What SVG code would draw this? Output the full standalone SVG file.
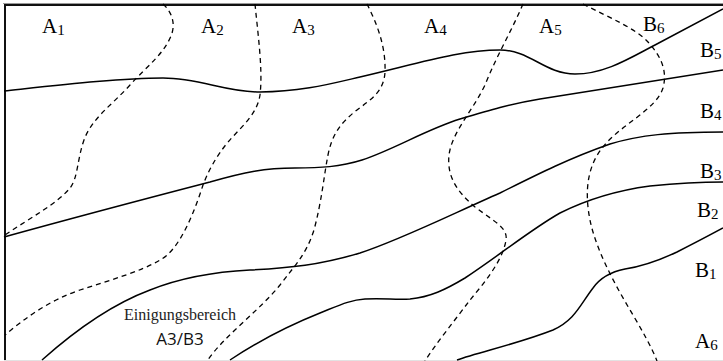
<svg xmlns="http://www.w3.org/2000/svg" width="723" height="361" viewBox="0 0 723 361">
<style>
.frame{stroke:#111;stroke-width:2;fill:none}
.solid{stroke:#000;stroke-width:1.5;fill:none}
.dash{stroke:#000;stroke-width:1.3;fill:none;stroke-dasharray:5,4}
.lbl{font-family:"Liberation Serif","Times New Roman",serif;font-size:21px;fill:#000}
.sub{font-size:15px}
.note{font-family:"Liberation Serif","Times New Roman",serif;font-size:16px;fill:#222;text-anchor:middle}
.note2{font-family:"Open Sans","Liberation Sans",sans-serif;font-size:17px;fill:#111;text-anchor:middle}
</style>
<rect width="723" height="361" fill="#fff"/>
<g id="frame">
<line x1="3" y1="3.5" x2="723" y2="3.5" stroke="#999" stroke-width="1"/>
<line x1="4" y1="5" x2="723" y2="5" class="frame"/>
<line x1="5" y1="4" x2="5" y2="361" class="frame"/>
<line x1="4" y1="360.5" x2="723" y2="360.5" stroke="#e2e2e2" stroke-width="1"/>
</g>
<g id="connectors">
<path class="solid" d="M4,91 C60,85 120,78 163,78 C200,78 225,92 260,92 C300,92 330,84 360,77 C420,63 460,50 500,50 C530,50 545,74 575,74 C605,74 630,58 655,45 L723,9"/>
<path class="solid" d="M4,237 C80,216 160,195 210,182 C245,172 265,168 295,168 C320,168 340,167 362,160 C395,149 425,130 460,119 C490,110 510,104 540,99 L723,70"/>
<path class="solid" d="M42,360 C70,335 110,305 150,290 C180,278 210,272 250,270 C290,268 320,265 360,253 C400,240 450,215 500,193 C540,173 570,158 610,144 C640,135 670,132 723,132"/>
<path class="solid" d="M230,360 C260,340 290,325 320,313 C340,305 350,300 365,299 C385,298 395,300 410,299 C430,297 445,290 465,278 C500,255 530,230 560,213 C590,198 620,190 650,186 C680,183 700,182 723,182"/>
<path class="solid" d="M457,360 C480,352 520,343 553,330 C575,320 580,305 593,288 C600,278 610,272 625,269 C645,266 660,260 677,252 C695,243 710,235 723,228"/>
<path class="dash" d="M163,4 C172,12 176,24 171,36 C163,55 148,65 130,85 C112,105 92,118 84,140 C77,160 78,178 70,188 C58,203 30,218 5,235"/>
<path class="dash" d="M255,4 C258,35 263,70 260,95 C257,115 240,128 228,142 C215,158 208,172 203,185 C195,210 180,250 160,260 C140,272 110,280 80,290 C50,300 25,318 5,335"/>
<path class="dash" d="M367,4 C376,22 386,45 385,72 C384,92 370,100 357,110 C340,123 332,135 328,155 C324,175 322,200 314,230 C306,255 295,265 280,285 C260,310 225,335 207,361"/>
<path class="dash" d="M523,4 C512,30 497,55 485,85 C472,112 452,132 449,155 C447,175 455,190 475,207 C495,222 508,228 506,240 C503,260 485,282 470,300 C455,320 435,345 425,361"/>
<path class="dash" d="M583,4 C610,18 635,28 648,42 C660,55 668,70 663,88 C656,110 620,125 603,147 C588,165 584,190 590,220 C596,250 615,285 633,315 C643,332 652,348 657,361"/>
</g>
<g id="A1"><text class="lbl" x="42" y="33">A<tspan class="sub" dy="2">1</tspan></text></g>
<g id="A2"><text class="lbl" x="201" y="33">A<tspan class="sub" dy="2">2</tspan></text></g>
<g id="A3"><text class="lbl" x="292" y="33">A<tspan class="sub" dy="2">3</tspan></text></g>
<g id="A4"><text class="lbl" x="424" y="33">A<tspan class="sub" dy="2">4</tspan></text></g>
<g id="A5"><text class="lbl" x="539" y="33">A<tspan class="sub" dy="2">5</tspan></text></g>
<g id="B6"><text class="lbl" x="643" y="31">B<tspan class="sub" dy="2">6</tspan></text></g>
<g id="B5"><text class="lbl" x="700" y="57">B<tspan class="sub" dy="2">5</tspan></text></g>
<g id="B4"><text class="lbl" x="700" y="118">B<tspan class="sub" dy="2">4</tspan></text></g>
<g id="B3"><text class="lbl" x="700" y="178">B<tspan class="sub" dy="2">3</tspan></text></g>
<g id="B2"><text class="lbl" x="697" y="217">B<tspan class="sub" dy="2">2</tspan></text></g>
<g id="B1"><text class="lbl" x="695" y="277">B<tspan class="sub" dy="2">1</tspan></text></g>
<g id="A6"><text class="lbl" x="695" y="348">A<tspan class="sub" dy="2">6</tspan></text></g>
<g id="einigung">
<text class="note" x="180" y="320">Einigungsbereich</text>
<text class="note2" x="180" y="345">A3/B3</text>
</g>
</svg>
